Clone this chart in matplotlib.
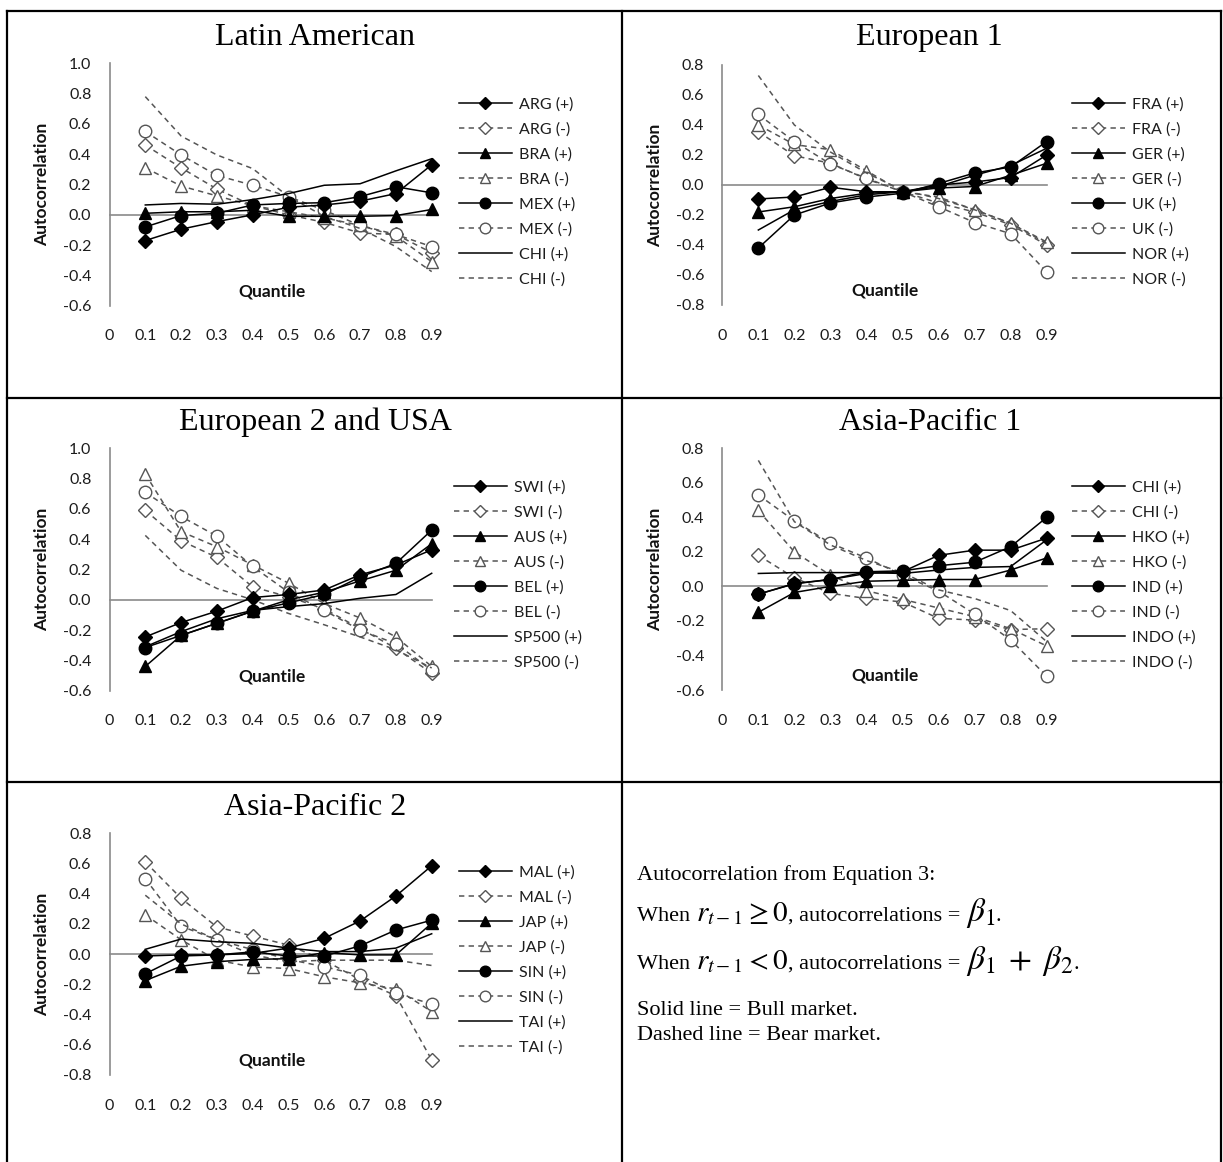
import matplotlib
matplotlib.use("Agg")
import matplotlib.pyplot as plt

plt.rcParams["mathtext.fontset"] = "stix"

W, H = 1223, 1162
fig = plt.figure(figsize=(W / 100, H / 100), dpi=100)

quantiles = [0.1, 0.2, 0.3, 0.4, 0.5, 0.6, 0.7, 0.8, 0.9]
x_ticks = [0, 0.1, 0.2, 0.3, 0.4, 0.5, 0.6, 0.7, 0.8, 0.9]
x_tick_labels = ["0", "0.1", "0.2", "0.3", "0.4", "0.5", "0.6", "0.7", "0.8", "0.9"]

# ---- Latin American ----
arg_pos = [-0.17, -0.095, -0.045, 0.0, 0.05, 0.065, 0.09, 0.14, 0.33]
arg_neg = [0.46, 0.31, 0.17, 0.06, 0.0, -0.05, -0.12, -0.13, -0.25]
bra_pos = [0.01, 0.02, 0.02, 0.03, -0.01, -0.01, -0.01, -0.005, 0.035]
bra_neg = [0.31, 0.19, 0.125, 0.06, 0.02, -0.02, -0.07, -0.14, -0.31]
mex_pos = [-0.08, -0.005, 0.01, 0.065, 0.075, 0.08, 0.12, 0.185, 0.145]
mex_neg = [0.55, 0.395, 0.26, 0.195, 0.12, 0.03, -0.07, -0.13, -0.21]
chi_pos = [0.065, 0.075, 0.07, 0.10, 0.14, 0.195, 0.205, 0.29, 0.37]
chi_neg = [0.78, 0.52, 0.395, 0.305, 0.12, -0.01, -0.09, -0.21, -0.375]

# ---- European 1 ----
fra_pos = [-0.093, -0.08, -0.015, -0.045, -0.045, 0.0, 0.02, 0.05, 0.2]
fra_neg = [0.355, 0.195, 0.145, 0.04, -0.045, -0.12, -0.18, -0.265, -0.4]
ger_pos = [-0.18, -0.145, -0.09, -0.055, -0.045, -0.02, -0.01, 0.065, 0.145]
ger_neg = [0.40, 0.27, 0.235, 0.095, -0.045, -0.08, -0.165, -0.255, -0.38]
uk_pos = [-0.42, -0.2, -0.12, -0.08, -0.055, 0.01, 0.08, 0.12, 0.29]
uk_neg = [0.47, 0.29, 0.14, 0.045, -0.045, -0.145, -0.25, -0.325, -0.58]
nor_pos = [-0.3, -0.165, -0.11, -0.065, -0.045, -0.01, 0.065, 0.13, 0.245]
nor_neg = [0.73, 0.40, 0.22, 0.08, -0.035, -0.09, -0.165, -0.255, -0.39]

# ---- European 2 and USA ----
swi_pos = [-0.245, -0.15, -0.075, 0.015, 0.035, 0.065, 0.165, 0.23, 0.33]
swi_neg = [0.59, 0.39, 0.28, 0.085, 0.02, -0.06, -0.19, -0.32, -0.485]
aus_pos = [-0.44, -0.235, -0.155, -0.075, 0.0, 0.05, 0.125, 0.195, 0.37]
aus_neg = [0.83, 0.45, 0.35, 0.23, 0.11, -0.025, -0.12, -0.245, -0.44]
bel_pos = [-0.315, -0.235, -0.155, -0.075, -0.02, 0.035, 0.15, 0.24, 0.46]
bel_neg = [0.71, 0.55, 0.42, 0.22, 0.05, -0.07, -0.2, -0.29, -0.465]
sp500_pos = [-0.31, -0.21, -0.125, -0.07, -0.045, -0.025, 0.01, 0.035, 0.175]
sp500_neg = [0.425, 0.195, 0.075, 0.0, -0.09, -0.165, -0.245, -0.33, -0.45]

# ---- Asia-Pacific 1 ----
chn_pos = [-0.045, 0.017, 0.04, 0.075, 0.085, 0.18, 0.21, 0.21, 0.28]
chn_neg = [0.18, 0.05, -0.04, -0.07, -0.09, -0.185, -0.195, -0.25, -0.245]
hko_pos = [-0.15, -0.035, 0.0, 0.03, 0.035, 0.04, 0.04, 0.095, 0.165]
hko_neg = [0.44, 0.2, 0.065, -0.025, -0.075, -0.125, -0.175, -0.245, -0.345]
ind_pos = [-0.045, 0.015, 0.04, 0.085, 0.09, 0.12, 0.14, 0.23, 0.40]
ind_neg = [0.53, 0.38, 0.25, 0.165, 0.065, -0.027, -0.16, -0.31, -0.52]
indo_pos = [0.075, 0.08, 0.08, 0.08, 0.075, 0.095, 0.11, 0.115, 0.27]
indo_neg = [0.73, 0.375, 0.24, 0.15, 0.08, -0.02, -0.07, -0.14, -0.32]

# ---- Asia-Pacific 2 ----
mal_pos = [-0.012, -0.005, -0.005, 0.005, 0.04, 0.105, 0.22, 0.385, 0.585]
mal_neg = [0.61, 0.37, 0.18, 0.12, 0.06, -0.04, -0.17, -0.275, -0.70]
jap_pos = [-0.175, -0.08, -0.05, -0.035, -0.03, 0.01, -0.005, -0.005, 0.205]
jap_neg = [0.26, 0.095, -0.04, -0.085, -0.095, -0.15, -0.19, -0.23, -0.38]
sin_pos = [-0.13, -0.012, -0.005, 0.015, -0.012, -0.012, 0.055, 0.16, 0.225]
sin_neg = [0.50, 0.185, 0.095, 0.03, -0.035, -0.083, -0.14, -0.26, -0.33]
tai_pos = [0.032, 0.10, 0.082, 0.072, 0.04, 0.017, 0.017, 0.04, 0.135]
tai_neg = [0.39, 0.20, 0.095, -0.005, -0.05, -0.04, -0.04, -0.04, -0.075]

panels = [
    dict(title="Latin American", names=["ARG", "BRA", "MEX", "CHI"],
         series=[arg_pos, arg_neg, bra_pos, bra_neg, mex_pos, mex_neg, chi_pos, chi_neg],
         ylim=(-0.6, 1.0), px=(109.5, 431.7, 63.3, 305.7), title_xy=(315, 45),
         leg=(459, 97)),
    dict(title="European 1", names=["FRA", "GER", "UK", "NOR"],
         series=[fra_pos, fra_neg, ger_pos, ger_neg, uk_pos, uk_neg, nor_pos, nor_neg],
         ylim=(-0.8, 0.8), px=(722.3, 1046.7, 65, 305), title_xy=(929, 45),
         leg=(1072, 97)),
    dict(title="European 2 and USA", names=["SWI", "AUS", "BEL", "SP500"],
         series=[swi_pos, swi_neg, aus_pos, aus_neg, bel_pos, bel_neg, sp500_pos, sp500_neg],
         ylim=(-0.6, 1.0), px=(109.5, 431.7, 448.3, 690.7), title_xy=(315, 430),
         leg=(454, 480)),
    dict(title="Asia-Pacific 1", names=["CHI", "HKO", "IND", "INDO"],
         series=[chn_pos, chn_neg, hko_pos, hko_neg, ind_pos, ind_neg, indo_pos, indo_neg],
         ylim=(-0.6, 0.8), px=(722.3, 1046.7, 448.3, 690), title_xy=(930, 430),
         leg=(1072, 480)),
    dict(title="Asia-Pacific 2", names=["MAL", "JAP", "SIN", "TAI"],
         series=[mal_pos, mal_neg, jap_pos, jap_neg, sin_pos, sin_neg, tai_pos, tai_neg],
         ylim=(-0.8, 0.8), px=(109.5, 431.7, 833.3, 1075), title_xy=(315, 815),
         leg=(459, 865)),
]

markers = ["D", "^", "o", None]
msizes = [7, 8, 9, 0]
tick_font = "Lato"
tick_color = "#1c1c1c"
axis_gray = "#8a8a8a"
neg_gray = "#555555"

for p in panels:
    x0, x1, yt, yb = p["px"]
    ax = fig.add_axes([x0 / W, 1 - yb / H, (x1 - x0) / W, (yb - yt) / H])
    ax.set_xlim(0, 0.9)
    ax.set_ylim(*p["ylim"])
    for s in ["top", "right", "bottom"]:
        ax.spines[s].set_visible(False)
    ax.spines["left"].set_color(axis_gray)
    ax.spines["left"].set_linewidth(1.2)
    ax.axhline(0, color=axis_gray, lw=1.2, zorder=1, clip_on=False)
    lo, hi = p["ylim"]
    yt_vals = [round(lo + 0.2 * i, 1) for i in range(int(round((hi - lo) / 0.2)) + 1)]
    ax.set_yticks(yt_vals)
    ax.set_yticklabels([f"{v:.1f}" for v in yt_vals])
    ax.set_xticks(x_ticks)
    ax.set_xticklabels(x_tick_labels)
    ax.tick_params(axis="both", length=0, labelsize=11.5, colors=tick_color)
    ax.tick_params(axis="y", pad=13)
    ax.tick_params(axis="x", pad=17)
    for lab in ax.get_xticklabels() + ax.get_yticklabels():
        lab.set_family(tick_font)
    ax.set_ylabel("Autocorrelation", fontsize=12.5, fontweight="bold",
                  family=tick_font, labelpad=9, color="#111111")
    ax.text(0.503, 0.06, "Quantile", transform=ax.transAxes, ha="center", va="center",
            fontsize=12.5, fontweight="bold", family=tick_font, color="#111111")
    ax.patch.set_alpha(0)

    handles, labels = [], []
    for i, name in enumerate(p["names"]):
        pos = p["series"][2 * i]
        neg = p["series"][2 * i + 1]
        m = markers[i]
        ms = msizes[i]
        hp, = ax.plot(quantiles, pos, color="black", lw=1.1, ls="-",
                      marker=m if m else "None", ms=ms, mfc="black", mec="black",
                      clip_on=False, zorder=4)
        hn, = ax.plot(quantiles, neg, color=neg_gray, lw=1.1, ls=(0, (3.5, 2.8)),
                      marker=m if m else "None", ms=ms, mfc="white", mec=neg_gray,
                      mew=1.0, clip_on=False, zorder=3)
        handles += [hp, hn]
        labels += [f"{name} (+)", f"{name} (-)"]

    lx, ly = p["leg"]
    fig.legend(handles, labels, loc="upper left", bbox_to_anchor=(lx / W, 1 - ly / H),
               frameon=False, borderpad=0, borderaxespad=0, handlelength=3.3,
               handletextpad=0.45, labelspacing=0.67, markerscale=0.85,
               prop={"family": tick_font, "size": 11.5}, labelcolor=tick_color)

    tx, tyb = p["title_xy"]
    fig.text(tx / W, 1 - tyb / H, p["title"], ha="center", va="baseline",
             fontsize=23, family="Liberation Serif")

# ---- table grid lines ----
border = dict(color="black", lw=1.6)
fig.add_artist(plt.Line2D([7 / W, 7 / W], [0, 1 - 11 / H], transform=fig.transFigure, **border))
fig.add_artist(plt.Line2D([1221 / W, 1221 / W], [0, 1 - 11 / H], transform=fig.transFigure, **border))
fig.add_artist(plt.Line2D([622 / W, 622 / W], [0, 1 - 11 / H], transform=fig.transFigure, **border))
for yy in [11, 397.5, 781.5]:
    fig.add_artist(plt.Line2D([7 / W, 1221 / W], [1 - yy / H, 1 - yy / H],
                              transform=fig.transFigure, **border))

# ---- note text ----
renderer = fig.canvas.get_renderer()


def seq_text(x, yb, pieces):
    for s, fs in pieces:
        t = fig.text(x / W, 1 - yb / H, s, fontsize=fs, family="Liberation Serif",
                     va="baseline", ha="left")
        bb = t.get_window_extent(renderer=renderer)
        x += bb.width


note_x = 637
fs_note = 16
seq_text(note_x, 880, [("Autocorrelation from Equation 3:", fs_note)])
seq_text(note_x, 921, [("When ", fs_note), (r"$r_{t-1}\geq 0$", 21),
                       (", autocorrelations = ", fs_note), (r"$\beta_1$", 24), (".", fs_note)])
seq_text(note_x, 969, [("When ", fs_note), (r"$r_{t-1} < 0$", 21),
                       (", autocorrelations = ", fs_note),
                       (r"$\beta_1\;+\;\beta_2$", 24), (".", fs_note)])
seq_text(note_x, 1015, [("Solid line = Bull market.", fs_note)])
seq_text(note_x, 1040, [("Dashed line = Bear market.", fs_note)])

fig.savefig("out.png", dpi=100)
